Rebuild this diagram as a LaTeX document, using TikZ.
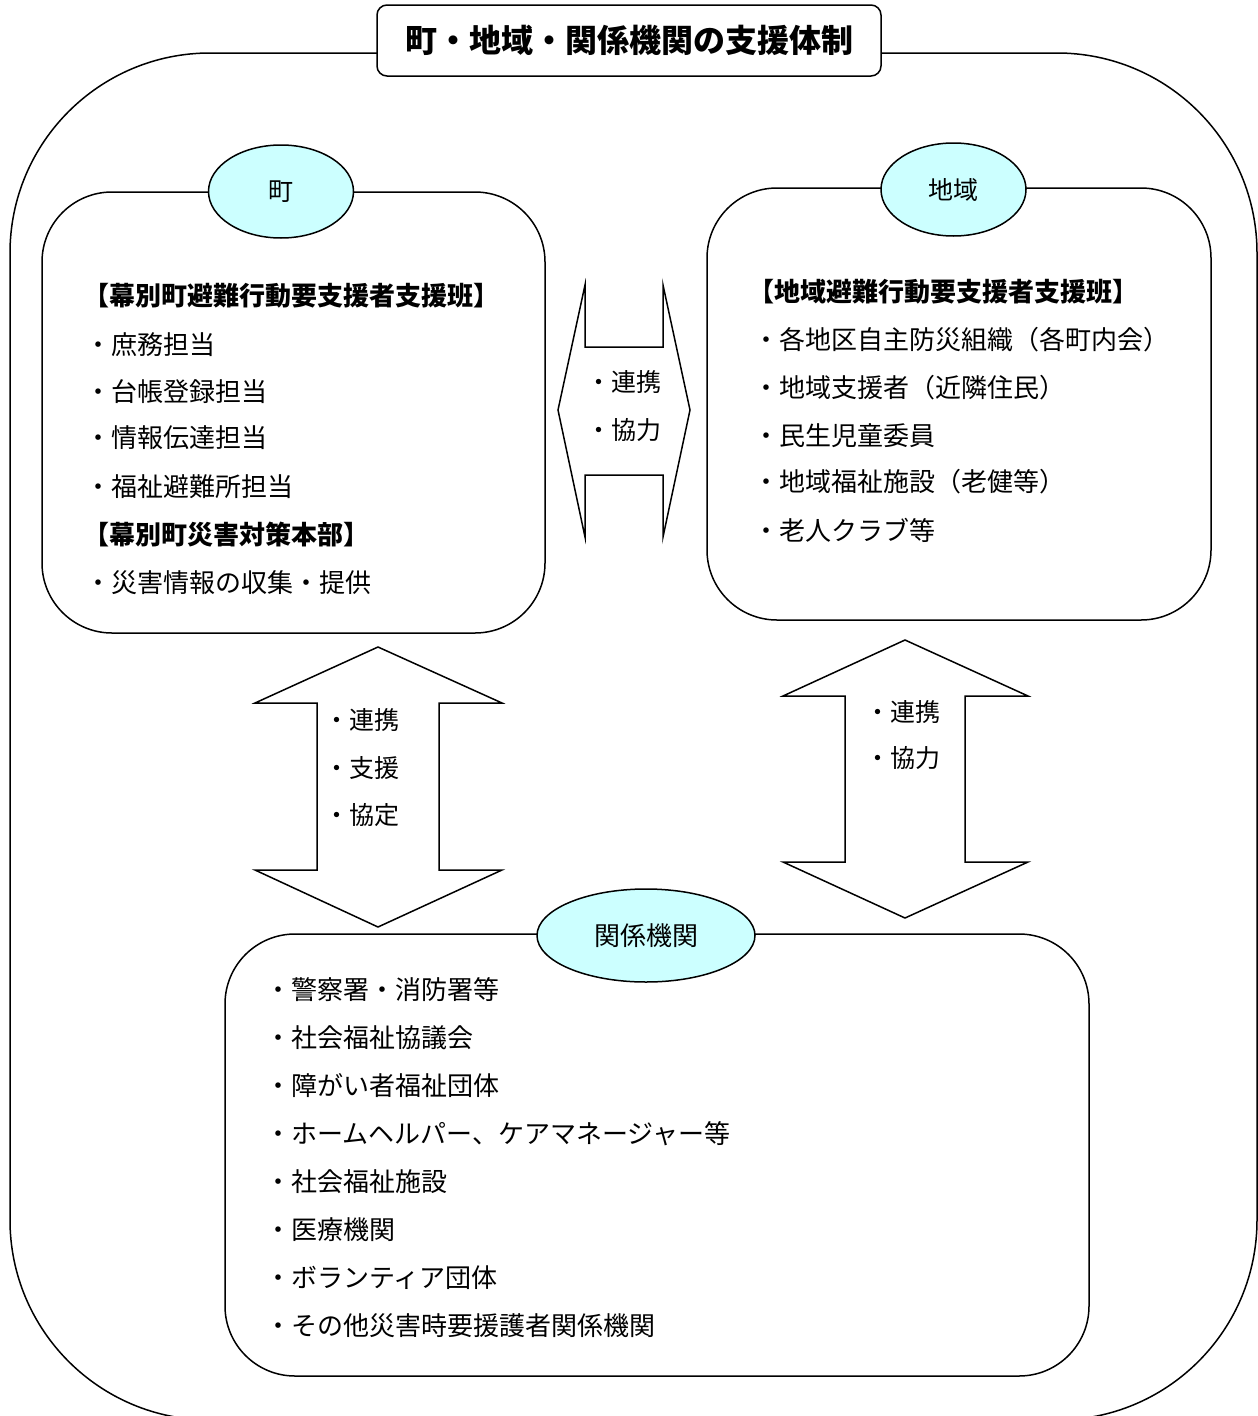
\documentclass[tikz,border=0pt]{standalone}
\usepackage{fontspec}
\setmainfont{Noto Sans CJK JP}
\usetikzlibrary{shapes.geometric}
\definecolor{lcyan}{HTML}{CCFFFF}
\tikzset{
  outline/.style={draw, line width=1.5pt},
  panel/.style={outline, rectangle, rounded corners=70pt, fill=white, inner sep=0pt},
  tag/.style={outline, ellipse, fill=lcyan, inner sep=0pt, minimum height=93pt,
              font=\fontsize{25}{25}\selectfont},
  item/.style={anchor=west, inner sep=0pt, font=\fontsize{26}{26}\selectfont},
  head/.style={anchor=west, inner sep=0pt, font=\fontsize{26}{26}\selectfont\bfseries},
  alabel/.style={anchor=west, inner sep=0pt, font=\fontsize{25}{25}\selectfont},
  blockarrow/.style={outline, fill=white, line join=miter}
}
\begin{document}
\begin{tikzpicture}[x=1pt,y=-1pt]
\useasboundingbox (0,0) rectangle (1258,1416);
\clip (0,0) rectangle (1258,1416);
% outer frame
\draw[outline, rounded corners=200pt] (10,53) rectangle (1257,1420);
% title
\node[outline, rectangle, rounded corners=10pt, fill=white, inner sep=0pt,
      minimum width=504pt, minimum height=71pt,
      font=\fontsize{32}{32}\selectfont\bfseries] (title) at (629,40.5) {町・地域・関係機関の支援体制};

% panels
\node[panel, minimum width=503pt, minimum height=441pt] (town) at (293.5,412.5) {};
\node[panel, minimum width=504pt, minimum height=432pt] (region) at (959,404) {};
\node[panel, minimum width=864pt, minimum height=442pt] (agency) at (657,1155) {};

% tags
\node[tag, minimum width=145pt] (towntag) at (281,191.5) {町};
\node[tag, minimum width=145pt] (regiontag) at (953.5,189.5) {地域};
\node[tag, minimum width=218pt, font=\fontsize{26}{26}\selectfont] (agencytag) at (646,935.5) {関係機関};

% horizontal double arrow between town and region
\draw[blockarrow] (558,410) -- (585,285) -- (585,347) -- (663,347) -- (663,285)
  -- (690,410) -- (663,537) -- (663,475) -- (585,475) -- (585,537) -- cycle;
\node[alabel] (h1) at (586,382) {・連携};
\node[alabel] (h2) at (586,430) {・協力};

% left vertical double arrow
\draw[blockarrow] (378,647) -- (502,703) -- (439,703) -- (439,870) -- (502,870)
  -- (378,927) -- (255,870) -- (317,870) -- (317,703) -- (255,703) -- cycle;
\node[alabel] (l1) at (324.5,720) {・連携};
\node[alabel] (l2) at (324.5,768) {・支援};
\node[alabel] (l3) at (324.5,815) {・協定};

% right vertical double arrow
\draw[blockarrow] (905,640) -- (1028,696) -- (965,696) -- (965,862) -- (1028,862)
  -- (905,918) -- (783,862) -- (845,862) -- (845,696) -- (783,696) -- cycle;
\node[alabel] (r1) at (865.5,712) {・連携};
\node[alabel] (r2) at (865.5,758) {・協力};

% town text
\node[head] (t0) at (83,296) {【幕別町避難行動要支援者支援班】};
\node[item] (t1) at (85,345) {・庶務担当};
\node[item] (t2) at (85,392) {・台帳登録担当};
\node[item] (t3) at (85,438) {・情報伝達担当};
\node[item] (t4) at (85,487) {・福祉避難所担当};
\node[head] (t5) at (83,535) {【幕別町災害対策本部】};
\node[item] (t6) at (85,583) {・災害情報の収集・提供};

% region text
\node[head] (g0) at (748,292) {【地域避難行動要支援者支援班】};
\node[item] (g1) at (753,340) {・各地区自主防災組織（各町内会）};
\node[item] (g2) at (753,388) {・地域支援者（近隣住民）};
\node[item] (g3) at (753,436) {・民生児童委員};
\node[item] (g4) at (753,482) {・地域福祉施設（老健等）};
\node[item] (g5) at (753,530) {・老人クラブ等};

% agency text
\node[item] (a1) at (265,990) {・警察署・消防署等};
\node[item] (a2) at (265,1038) {・社会福祉協議会};
\node[item] (a3) at (265,1086) {・障がい者福祉団体};
\node[item] (a4) at (265,1134) {・ホームヘルパー、ケアマネージャー等};
\node[item] (a5) at (265,1182) {・社会福祉施設};
\node[item] (a6) at (265,1230) {・医療機関};
\node[item] (a7) at (265,1278) {・ボランティア団体};
\node[item] (a8) at (265,1326) {・その他災害時要援護者関係機関};
\end{tikzpicture}
\end{document}
